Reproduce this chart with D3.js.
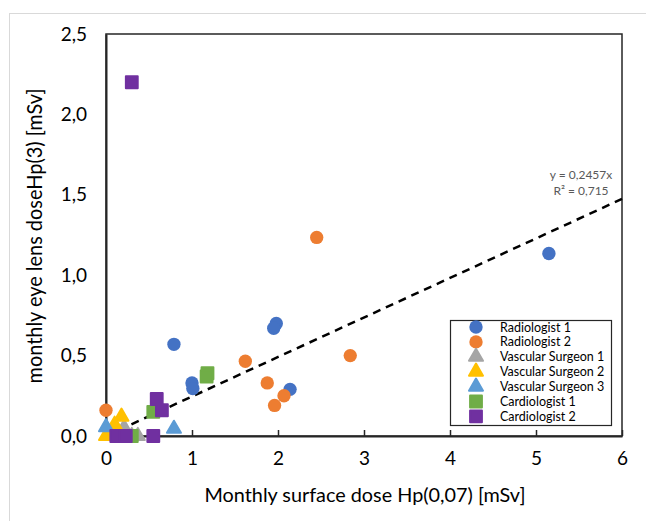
<!DOCTYPE html>
<html>
<head>
<meta charset="utf-8">
<script src="https://cdn.jsdelivr.net/npm/d3@7"></script>
<style>
  body { margin: 0; background: #fff; }
  text { font-family: Lato, "Open Sans", sans-serif; }
</style>
</head>
<body>
<script>
// series names and colours (Excel default palette)
var seriesNames = ["Radiologist 1", "Radiologist 2", "Vascular Surgeon 1", "Vascular Surgeon 2",
  "Vascular Surgeon 3", "Cardiologist 1", "Cardiologist 2"];
var seriesColors = ["#4472C4", "#ED7D31", "#A5A5A5", "#FFC000", "#5B9BD5", "#70AD47", "#7030A0"];
var seriesShapes = ["circle", "circle", "triangle", "triangle", "triangle", "square", "square"];

// monthly Hp(0,07) (x) and Hp(3) (y) per series, mSv
var rad1X = [5.15, 1.98, 1.95, 0.79, 1.00, 1.01, 2.14];
var rad1Y = [1.135, 0.70, 0.67, 0.57, 0.33, 0.295, 0.29];
var rad2X = [2.45, 2.84, 1.62, 1.875, 2.07, 1.96, 0.00];
var rad2Y = [1.235, 0.50, 0.465, 0.33, 0.25, 0.19, 0.16];
var vs1X = [0.21, 0.37, 0.30];
var vs1Y = [0.05, 0.00, 0.00];
var vs2X = [0.18, 0.10, 0.00, 0.05];
var vs2Y = [0.12, 0.07, 0.00, 0.00];
var vs3X = [0.00, 0.79];
var vs3Y = [0.055, 0.045];
var card1X = [1.18, 1.17, 0.55, 0.30, 0.25];
var card1Y = [0.39, 0.37, 0.15, 0.00, 0.00];
var card2X = [0.30, 0.59, 0.65, 0.55, 0.12, 0.18, 0.23];
var card2Y = [2.20, 0.23, 0.16, 0.00, 0.00, 0.00, 0.00];

var seriesX = [rad1X, rad2X, vs1X, vs2X, vs3X, card1X, card2X];
var seriesY = [rad1Y, rad2Y, vs1Y, vs2Y, vs3Y, card1Y, card2Y];

var slope = 0.2457;
var trendText = ["y = 0,2457x", "R² = 0,715"];
var xTicks = [0, 1, 2, 3, 4, 5, 6];
var yTicks = [0, 0.5, 1, 1.5, 2, 2.5];

var width = 646, height = 521;
var svg = d3.select("body").append("svg")
    .attr("width", width)
    .attr("height", height);

// outer chart frame
svg.append("rect")
    .attr("x", 9.5).attr("y", 13.5)
    .attr("width", 700).attr("height", 600)
    .attr("fill", "none").attr("stroke", "#d9d9d9");

var x = d3.scaleLinear().domain([0, 6]).range([106, 622]);
var y = d3.scaleLinear().domain([0, 2.5]).range([436, 34]);

var comma = function (f) { return function (d) { return f(d).replace(".", ","); }; };

// plot frame
svg.append("rect")
    .attr("x", x(0)).attr("y", y(2.5))
    .attr("width", x(6) - x(0)).attr("height", y(0) - y(2.5))
    .attr("fill", "none").attr("stroke", "#262626").attr("stroke-width", 1.5);

var xAxis = svg.append("g")
    .attr("transform", "translate(0," + y(0) + ")")
    .call(d3.axisBottom(x).tickValues(xTicks).tickSizeInner(-6).tickSizeOuter(0).tickPadding(16)
      .tickFormat(d3.format("d")));
xAxis.select(".domain").attr("stroke", "#262626").attr("stroke-width", 2);
xAxis.selectAll(".tick line").attr("stroke", "#262626").attr("stroke-width", 1.5);
xAxis.selectAll(".tick text").attr("font-size", 19).attr("fill", "#000");

var yAxis = svg.append("g")
    .attr("transform", "translate(" + x(0) + ",0)")
    .call(d3.axisLeft(y).tickValues(yTicks).tickSize(0).tickPadding(19)
      .tickFormat(comma(d3.format(".1f"))));
yAxis.select(".domain").attr("stroke", "#262626").attr("stroke-width", 2);
yAxis.selectAll(".tick text").attr("font-size", 19).attr("fill", "#000");

// axis titles
svg.append("text")
    .attr("x", 365).attr("y", 502)
    .attr("text-anchor", "middle")
    .attr("font-size", 19)
    .attr("textLength", 321).attr("lengthAdjust", "spacingAndGlyphs")
    .text("Monthly surface dose Hp(0,07) [mSv]");

svg.append("text")
    .attr("transform", "translate(42,236) rotate(-90)")
    .attr("text-anchor", "middle")
    .attr("font-size", 21)
    .attr("textLength", 295).attr("lengthAdjust", "spacingAndGlyphs")
    .text("monthly eye lens doseHp(3) [mSv]");

// trendline
svg.append("line")
    .attr("x1", x(0)).attr("y1", y(0))
    .attr("x2", x(6)).attr("y2", y(slope * 6))
    .attr("stroke", "#000").attr("stroke-width", 2.5)
    .attr("stroke-dasharray", "8,6");

svg.selectAll("text.trend")
    .data(trendText)
    .enter().append("text")
    .attr("class", "trend")
    .attr("x", 581).attr("y", function (d, i) { return 179 + i * 16; })
    .attr("text-anchor", "middle")
    .attr("font-size", 12)
    .attr("fill", "#595959")
    .text(function (d) { return d; });

// marker shapes
var symbolFor = {
  circle: d3.symbol().type(d3.symbolCircle).size(140),
  triangle: d3.symbol().type(d3.symbolTriangle).size(85),
  square: d3.symbol().type(d3.symbolSquare).size(140)
};

for (var s = 0; s < seriesNames.length; s++) {
  var pts = seriesX[s].map(function (v, i) { return { x: v, y: seriesY[s][i] }; });
  var g = svg.append("g").attr("class", "series" + s);
  g.selectAll("path")
    .data(pts)
    .enter().append("path")
    .attr("d", symbolFor[seriesShapes[s]]())
    .attr("transform", function (d) { return "translate(" + x(d.x) + "," + y(d.y) + ")"; })
    .attr("fill", seriesColors[s])
    .attr("stroke", seriesColors[s])
    .attr("stroke-width", seriesShapes[s] == "circle" ? 0 : 2)
    .attr("stroke-linejoin", "round");
}

// legend
var legend = svg.append("g");
legend.append("rect")
    .attr("x", 450.5).attr("y", 320.5)
    .attr("width", 161).attr("height", 105)
    .attr("fill", "#fff").attr("stroke", "#262626").attr("stroke-width", 1.2);

var rows = legend.selectAll("g.row")
    .data(seriesNames)
    .enter().append("g")
    .attr("class", "row")
    .attr("transform", function (d, i) { return "translate(0," + (327 + i * 14.9) + ")"; });

rows.append("path")
    .attr("d", function (d, i) { return symbolFor[seriesShapes[i]](); })
    .attr("transform", "translate(476,0)")
    .attr("fill", function (d, i) { return seriesColors[i]; })
    .attr("stroke", function (d, i) { return seriesColors[i]; })
    .attr("stroke-width", function (d, i) { return seriesShapes[i] == "circle" ? 0 : 2; })
    .attr("stroke-linejoin", "round");

rows.append("text")
    .attr("x", 500).attr("y", 4.5)
    .attr("font-size", 12.5)
    .attr("fill", "#000")
    .text(function (d) { return d; });
</script>
</body>
</html>
